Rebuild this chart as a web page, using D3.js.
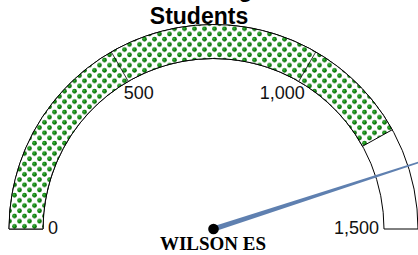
<!DOCTYPE html>
<html>
<head>
<meta charset="utf-8">
<script src="https://cdn.jsdelivr.net/npm/d3@7"></script>
<style>
  html, body { margin: 0; padding: 0; background: #fff; }
  svg { display: block; }
</style>
</head>
<body>
<svg id="chart" width="418" height="255"></svg>
<script>
// ---- data ----
const titleLines = ["Attending", "Students"];
const schoolName = "WILSON ES";
const gaugeMin = 0;
const gaugeMax = 1500;
const bandValue = [1258];       // filled portion of the band
const needleValue = [1350];     // needle position
const tickValues = [0, 500, 1000, 1500];
const dividerValues = [500, 1000];

// ---- layout ----
const W = 418, H = 255;
const cx = 213.5, cy = 229;
const rOuter = 204.5, rInner = 170.5;

const svg = d3.select("#chart");

// angle scale: radians measured d3-style (0 = up, clockwise)
const ang = d3.scaleLinear().domain([gaugeMin, gaugeMax]).range([-Math.PI / 2, Math.PI / 2]);

// pattern
const defs = svg.append("defs");
const grad = defs.append("radialGradient").attr("id", "dotGrad")
  .attr("cx", "40%").attr("cy", "40%").attr("r", "60%");
grad.append("stop").attr("offset", "0%").attr("stop-color", "#5cc25c");
grad.append("stop").attr("offset", "40%").attr("stop-color", "#139013");
grad.append("stop").attr("offset", "100%").attr("stop-color", "#066006");
const pat = defs.append("pattern").attr("id", "dots")
  .attr("patternUnits", "userSpaceOnUse")
  .attr("width", 10).attr("height", 10.4)
  .attr("x", cx).attr("y", 0);
pat.append("rect").attr("width", 10).attr("height", 10.4).attr("fill", "#fff");
[[2.5, 2.6], [7.5, 7.8]].forEach(([x, y]) => {
  pat.append("circle").attr("cx", x).attr("cy", y).attr("r", 2.35).attr("fill", "url(#dotGrad)");
});

const g = svg.append("g").attr("transform", `translate(${cx},${cy})`);

const arc = d3.arc().innerRadius(rInner).outerRadius(rOuter);

// whole band (white background, outline)
g.append("path")
  .attr("d", arc({ startAngle: ang(gaugeMin), endAngle: ang(gaugeMax) }))
  .attr("fill", "#fff").attr("stroke", "#000").attr("stroke-width", 1);

// filled band
g.append("path")
  .datum(bandValue[0])
  .attr("d", v => arc({ startAngle: ang(gaugeMin), endAngle: ang(v) }))
  .attr("fill", "url(#dots)").attr("stroke", "#000").attr("stroke-width", 1);

// dividers
g.selectAll("line.div").data(dividerValues).join("line")
  .attr("class", "div")
  .attr("x1", d => rInner * Math.sin(ang(d)))
  .attr("y1", d => -rInner * Math.cos(ang(d)))
  .attr("x2", d => rOuter * Math.sin(ang(d)))
  .attr("y2", d => -rOuter * Math.cos(ang(d)))
  .attr("stroke", "#000").attr("stroke-width", 0.8);

// tick labels
const fmt = d3.format(",");
g.selectAll("text.tick").data(tickValues).join("text")
  .attr("class", "tick")
  .attr("x", d => {
    const a = ang(d);
    const x = rInner * Math.sin(a);
    if (d === gaugeMin) return x + 5;
    if (d === gaugeMax) return x - 5;
    return x < 0 ? x - 4.5 : x + 6;
  })
  .attr("y", d => {
    const a = ang(d);
    const y = -rInner * Math.cos(a);
    if (d === gaugeMin || d === gaugeMax) return y + 5;
    return y + 18;
  })
  .attr("text-anchor", d => {
    const x = Math.sin(ang(d));
    return x < 0 ? "start" : "end";
  })
  .attr("font-family", "Liberation Sans, Arial, sans-serif")
  .attr("font-size", 18)
  .attr("fill", "#111")
  .text(d => fmt(d));

// needle
const needleLen = 232;
const needle = g.append("g").datum(needleValue[0]);
needle.append("path")
  .attr("d", v => {
    const a = ang(v);
    const ux = Math.sin(a), uy = -Math.cos(a);
    const px = -uy, py = ux;
    const wBase = 2.6, wTip = 0.7;
    const pts = [
      [px * wBase, py * wBase],
      [ux * needleLen + px * wTip, uy * needleLen + py * wTip],
      [ux * needleLen - px * wTip, uy * needleLen - py * wTip],
      [-px * wBase, -py * wBase]
    ];
    return d3.line()(pts) + "Z";
  })
  .attr("fill", "#5f80b0");
g.append("circle").attr("r", 5.3).attr("fill", "#000");

// school name
svg.append("text")
  .attr("x", 213).attr("y", 250)
  .attr("text-anchor", "middle")
  .attr("font-family", "Liberation Serif, Times New Roman, serif")
  .attr("font-weight", "bold")
  .attr("font-size", 19)
  .attr("fill", "#000")
  .text(schoolName);

// title
svg.append("text")
  .attr("text-anchor", "middle")
  .attr("font-family", "Liberation Sans, Arial, sans-serif")
  .attr("font-weight", "bold")
  .attr("font-size", 23)
  .attr("fill", "#000")
  .selectAll("tspan").data(titleLines).join("tspan")
  .attr("x", 199)
  .attr("y", (d, i) => 24 - (titleLines.length - 1 - i) * 27)
  .text(d => d);
</script>
</body>
</html>
